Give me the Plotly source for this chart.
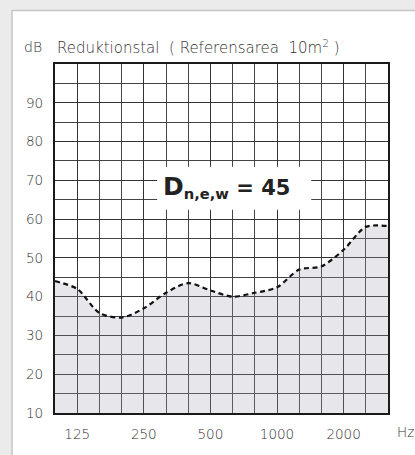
import plotly.graph_objects as go

# third-octave band index 0..15 -> 100 .. 3150 Hz
bands = [100, 125, 160, 200, 250, 315, 400, 500, 630, 800, 1000, 1250, 1600, 2000, 2500, 3150]
values = [44, 42, 35.8, 34.6, 37, 41, 43.5, 41.6, 40, 41, 42.4, 47, 47.8, 52.1, 58, 58.2]
xtick_labels = ["125", "250", "500", "1000", "2000"]
xtick_bands = [125, 250, 500, 1000, 2000]
ytick_vals = [10, 20, 30, 40, 50, 60, 70, 80, 90]

idx = list(range(len(bands)))
xtick_pos = [bands.index(b) for b in xtick_bands]

FONT = "DejaVu Sans"
TXT = "#333333"
fig = go.Figure()
fig.add_trace(go.Scatter(
    x=idx, y=values, mode="lines",
    line=dict(color="#111111", width=2.2, dash="5px,3.5px", shape="spline", smoothing=0.8),
    fill="tozeroy", fillcolor="rgba(160,160,178,0.26)",
    hoverinfo="skip", showlegend=False,
))

fig.update_layout(
    width=415, height=455,
    margin=dict(l=55, r=27, t=64, b=42),
    paper_bgcolor="#ebebeb", plot_bgcolor="white",
    font=dict(family=FONT, size=13, color=TXT, weight=300),
    showlegend=False,
)
fig.update_xaxes(
    range=[0, 15], tickvals=xtick_pos, ticktext=xtick_labels, ticks="",
    showgrid=True, gridcolor="#333333", gridwidth=1.4,
    minor=dict(dtick=1, showgrid=True, gridcolor="#444444", gridwidth=1.2),
    showline=True, mirror=True, linecolor="#1a1a1a", linewidth=2.2,
    zeroline=False, tickfont=dict(family=FONT, size=13.5, color=TXT, weight=300), ticklabelstandoff=8,
)
fig.update_yaxes(
    range=[10, 100], tickvals=ytick_vals, ticks="",
    showgrid=True, gridcolor="#333333", gridwidth=1.4,
    minor=dict(dtick=5, showgrid=True, gridcolor="#444444", gridwidth=1.2),
    showline=True, mirror=True, linecolor="#1a1a1a", linewidth=2.2,
    zeroline=False, tickfont=dict(family=FONT, size=13.5, color=TXT, weight=300), ticklabelstandoff=7,
)

# white panel behind the chart
fig.add_shape(type="rect", xref="paper", yref="paper",
              x0=-0.129, x1=1.3, y0=-0.3, y1=1.153,
              fillcolor="white", line=dict(color="#c6c6c6", width=1.5), layer="below")

# white box for rating label
fig.add_shape(type="rect", xref="x", yref="y", x0=4.6, x1=11.54, y0=62.4, y1=73.5,
              fillcolor="white", line=dict(width=0), layer="above")
fig.add_annotation(x=7.71, y=68.3, xref="x", yref="y",
                   text="<b><span style='font-size:25px'>D</span><sub>n,e,w</sub> = 45</b>",
                   showarrow=False,
                   font=dict(family=FONT, size=21, color="#222222", weight=700))

# titles
fig.add_annotation(x=-0.099, y=1.05, xref="paper", yref="paper", text="dB",
                   showarrow=False, xanchor="left", yanchor="middle",
                   font=dict(family=FONT, size=14, color=TXT, weight=300))
fig.add_annotation(x=0.0, y=1.05, xref="paper", yref="paper",
                   text="Reduktionstal  ( Referensarea  10m<sup>2</sup> )",
                   showarrow=False, xanchor="left", yanchor="middle",
                   font=dict(family=FONT, size=15, color=TXT, weight=300))
fig.add_annotation(x=1.052, y=-0.054, xref="paper", yref="paper", text="Hz",
                   showarrow=False, xanchor="center", yanchor="middle",
                   font=dict(family=FONT, size=13.5, color=TXT, weight=300))

fig.write_html("out.html", config={"displayModeBar": False})
with open("out.html", "r", encoding="utf-8") as f:
    html = f.read()
html = html.replace("<body>", "<body style=\"margin:0;padding:0;overflow:hidden\">", 1)
html = html.replace("<head>", "<head><style>html,body{margin:0;padding:0;}</style>", 1)
with open("out.html", "w", encoding="utf-8") as f:
    f.write(html)
